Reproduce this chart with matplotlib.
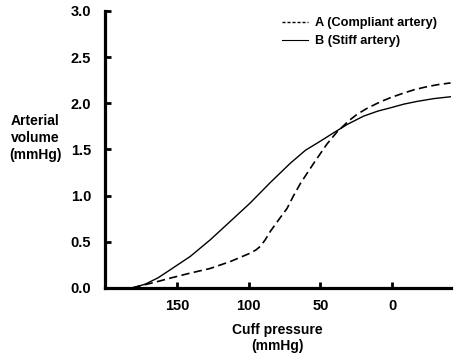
import matplotlib
matplotlib.use("Agg")
import matplotlib.pyplot as plt
import numpy as np
from matplotlib.lines import Line2D

plt.rcParams["font.family"] = ["Liberation Sans", "DejaVu Sans"]
plt.rcParams["font.weight"] = "bold"

# Cuff pressure (mmHg) and arterial volume
pressure_a = [181, 172, 163, 154.7, 140.7, 126.8, 112.8, 98.9, 95, 91.9, 88.5, 85, 79, 73.3, 68.7, 64,
              54.7, 45.4, 38.4, 30.3, 24.5, 17.5, 9, 1.3, -7, -15, -23, -31.3, -40.6]
volume_a = [0.0, 0.035, 0.07, 0.105, 0.16, 0.21, 0.285, 0.376, 0.41, 0.45, 0.52, 0.61, 0.74, 0.86, 1.0, 1.13,
            1.35, 1.56, 1.69, 1.81, 1.88, 1.945, 2.01, 2.06, 2.105, 2.145, 2.175, 2.20, 2.22]

pressure_b = [181, 172, 163, 154.7, 140.7, 126.8, 112.8, 98.9, 85, 71, 60.5, 50, 40.8, 31.4,
              20, 10, 1.3, -8, -17.4, -29, -40.6]
volume_b = [0.0, 0.04, 0.11, 0.195, 0.34, 0.52, 0.72, 0.92, 1.14, 1.35, 1.49, 1.59, 1.68, 1.77,
            1.86, 1.915, 1.95, 1.99, 2.02, 2.05, 2.07]

label_a = "A (Compliant artery)"
label_b = "B (Stiff artery)"

fig = plt.figure(figsize=(4.69, 3.63), dpi=100)
ax = fig.add_axes([0.224, 0.207, 0.738, 0.763])

ax.plot(pressure_a, volume_a, color="black", linestyle=(0, (5, 2.6)), linewidth=1.2,
        dash_joinstyle="round")
ax.plot(pressure_b, volume_b, color="black", linestyle="-", linewidth=1.0,
        solid_joinstyle="round")

ax.set_xlim(200, -41)
ax.set_ylim(0, 3.0)
ax.set_xticks([150, 100, 50, 0])
ax.set_yticks(np.arange(0, 3.01, 0.5))
ax.set_yticklabels([f"{v:.1f}" for v in np.arange(0, 3.01, 0.5)])

for side in ["top", "right"]:
    ax.spines[side].set_visible(False)
for side in ["left", "bottom"]:
    ax.spines[side].set_linewidth(2.3)

ax.tick_params(direction="in", length=4, width=2, labelsize=10.5)
ax.tick_params(axis="x", pad=8)
ax.tick_params(axis="y", pad=10)
for lab in ax.get_xticklabels() + ax.get_yticklabels():
    lab.set_fontweight("bold")

fig.text(35 / 469, 1 - 138 / 363, "Arterial\nvolume\n(mmHg)", ha="center", va="center",
         fontsize=10, fontweight="bold", linespacing=1.3)
fig.text(277 / 469, 1 - 338 / 363, "Cuff pressure\n(mmHg)", ha="center", va="center",
         fontsize=10, fontweight="bold", linespacing=1.2)

handles = [Line2D([], [], color="black", linestyle=(0, (2.2, 1.4)), linewidth=1.0),
           Line2D([], [], color="black", linestyle="-", linewidth=0.8)]
fig.legend(handles, [label_a, label_b], loc="upper left",
           bbox_to_anchor=(276 / 469, 1 - 11 / 363), bbox_transform=fig.transFigure,
           frameon=False, borderpad=0, handlelength=2.0, handletextpad=0.55,
           labelspacing=0.45, prop={"weight": "bold", "size": 9.2})

fig.savefig("out.png", dpi=100)
